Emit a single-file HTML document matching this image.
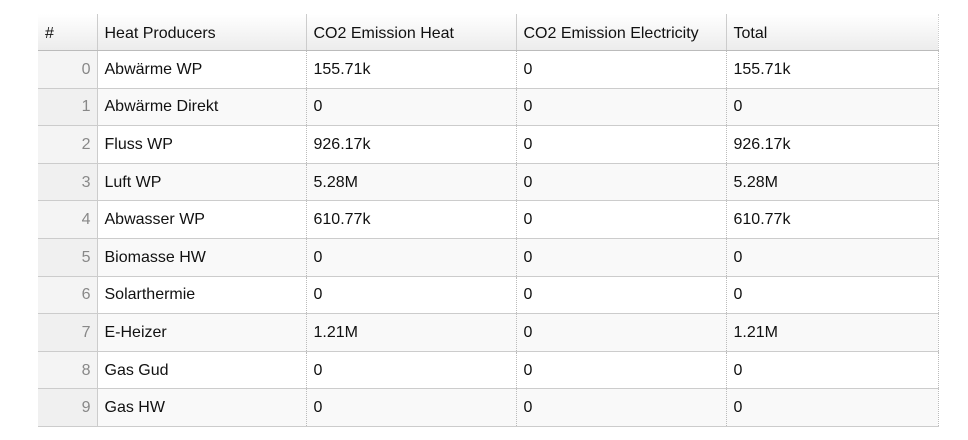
<!DOCTYPE html>
<html><head><meta charset="utf-8"><style>
body{margin:0;background:#fff;width:968px;height:440px;overflow:hidden;font-family:"Liberation Sans",Arial,sans-serif;font-size:16px;color:#111}
table{position:absolute;left:38px;top:14px;border-collapse:collapse;table-layout:fixed;width:900px}
th{height:33px;text-align:left;font-weight:normal;padding:3px 7px 0 7px;background:linear-gradient(#fff,#ececec);border-right:1px solid #ccc;border-bottom:1px solid #bbb}
th:last-child{border-right:1px dotted #ccc}
td{height:35.6px;padding:1px 7px 0 7px;border-bottom:1px solid #ccc;border-right:1px dotted #bbb}
td.i{text-align:right;color:#888;background:#f4f4f4;border-right:1px solid #ccc;padding-right:6px}
tr.odd td{background:#f9f9f9}
tr.odd td.i{background:#f0f0f0}
</style></head><body>
<table>
<colgroup><col style="width:59px"><col style="width:209px"><col style="width:210px"><col style="width:210px"><col style="width:212px"></colgroup>
<thead><tr>
<th>#</th>
<th>Heat Producers</th>
<th>CO2 Emission Heat</th>
<th>CO2 Emission Electricity</th>
<th>Total</th>
</tr></thead>
<tbody>
<tr><td class="i">0</td><td>Abwärme WP</td><td>155.71k</td><td>0</td><td>155.71k</td></tr>
<tr class="odd"><td class="i">1</td><td>Abwärme Direkt</td><td>0</td><td>0</td><td>0</td></tr>
<tr><td class="i">2</td><td>Fluss WP</td><td>926.17k</td><td>0</td><td>926.17k</td></tr>
<tr class="odd"><td class="i">3</td><td>Luft WP</td><td>5.28M</td><td>0</td><td>5.28M</td></tr>
<tr><td class="i">4</td><td>Abwasser WP</td><td>610.77k</td><td>0</td><td>610.77k</td></tr>
<tr class="odd"><td class="i">5</td><td>Biomasse HW</td><td>0</td><td>0</td><td>0</td></tr>
<tr><td class="i">6</td><td>Solarthermie</td><td>0</td><td>0</td><td>0</td></tr>
<tr class="odd"><td class="i">7</td><td>E-Heizer</td><td>1.21M</td><td>0</td><td>1.21M</td></tr>
<tr><td class="i">8</td><td>Gas Gud</td><td>0</td><td>0</td><td>0</td></tr>
<tr class="odd"><td class="i">9</td><td>Gas HW</td><td>0</td><td>0</td><td>0</td></tr>
</tbody></table>
</body></html>
